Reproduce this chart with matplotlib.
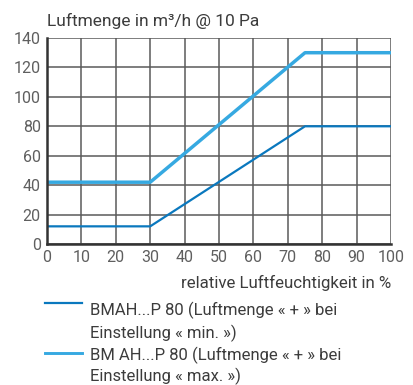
import matplotlib
matplotlib.use("Agg")
import matplotlib.pyplot as plt
from matplotlib.lines import Line2D

plt.rcParams['font.family'] = ['Roboto', 'DejaVu Sans']

x_min = [0, 30, 75, 100]
y_min = [12, 12, 80, 80]
x_max = [0, 30, 75, 100]
y_max = [42, 42, 130, 130]
x_ticks = list(range(0, 101, 10))
y_ticks = list(range(0, 141, 20))
title = "Luftmenge in m³/h @ 10 Pa"
xlabel = "relative Luftfeuchtigkeit in %"
legend_min = ["BMAH...P 80 (Luftmenge « + » bei", "Einstellung « min. »)"]
legend_max = ["BM AH...P 80 (Luftmenge « + » bei", "Einstellung « max. »)"]

c_dark = "#0a78be"
c_light = "#36a9e1"
txt = "#3c3c3c"

W, H = 414, 385
fig = plt.figure(figsize=(W/100, H/100), dpi=100)
ax = fig.add_axes([47/W, 1-244/H, (391-47)/W, (244-38)/H])
ax.set_xlim(0, 100)
ax.set_ylim(0, 140)
ax.set_xticks(x_ticks)
ax.set_yticks(y_ticks)
ax.grid(True, color="#5a5a5a", lw=1.1)
ax.set_axisbelow(True)
for s in ["top", "right"]:
    ax.spines[s].set_visible(False)
for s in ["left", "bottom"]:
    ax.spines[s].set_color("#333333")
    ax.spines[s].set_linewidth(1.8)
ax.tick_params(length=0, labelsize=11.5, labelcolor="#5f5f5f")
ax.tick_params(axis="x", pad=4.5)
ax.tick_params(axis="y", pad=4.5)

ax.plot(x_min, y_min, color=c_dark, lw=1.6, solid_capstyle="butt", clip_on=False)
ax.plot(x_max, y_max, color=c_light, lw=2.5, solid_capstyle="butt", clip_on=False)

fig.text(47/W, 1-26/H, title, fontsize=12.5, color=txt, va="baseline", ha="left")
fig.text(391/W, 1-288/H, xlabel, fontsize=12.2, color=txt, va="baseline", ha="right")

fig.add_artist(Line2D([45/W, 81.5/W], [1-303.3/H, 1-303.3/H], color=c_dark, lw=1.6))
fig.add_artist(Line2D([45/W, 81.5/W], [1-352.7/H, 1-352.7/H], color=c_light, lw=2.1))
for line, base in zip(legend_min + legend_max, [315.5, 338.5, 360.5, 381]):
    fig.text(90/W, 1-base/H, line, fontsize=12, color=txt, va="baseline", ha="left")

fig.savefig("out.png", dpi=100)
